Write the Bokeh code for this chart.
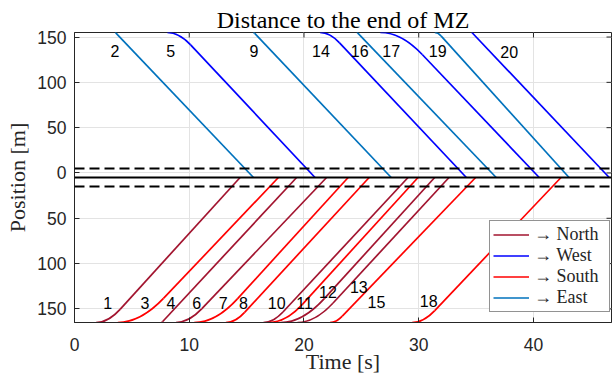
import numpy as np
from bokeh.plotting import figure
from bokeh.models import (ColumnDataSource, Span, Legend, LegendItem, FixedTicker)
from bokeh.embed import file_html
from bokeh.resources import INLINE
from bokeh.core.properties import value

# ---------------- data ----------------
vehicle_ids = [str(i) for i in range(1, 21)]
directions = ["North", "East", "South", "North", "West", "North", "South", "South",
              "East", "North", "South", "North", "North", "West", "South", "East",
              "West", "South", "East", "West"]
# time when the vehicle enters the plotted road (edge of the plot)
t_start = [1.88, 3.53, 3.77, 7.54, 8.09, 8.84, 10.43, 13.19, 15.57, 16.46,
           16.96, 17.97, 19.42, 21.40, 22.26, 24.60, 26.65, 29.42, 31.40, 34.60]
# time when the vehicle passes |position| = 100 m
t_mid = [7.60, 7.70, 10.64, 12.38, 13.18, 14.84, 17.00, 18.75, 19.75, 22.09,
         23.10, 24.55, 25.71, 26.34, 27.74, 28.80, 32.61, 35.28, 35.60, 38.75]
# time when the vehicle reaches the end of the merging zone
t_end = [14.43, 15.60, 17.77, 19.36, 20.96, 21.97, 23.85, 25.68, 27.60, 29.07,
         29.94, 31.39, 32.64, 34.15, 34.96, 36.75, 40.50, 42.40, 43.10, 46.60]
# vehicle number labels
label_t = [2.90, 3.53, 6.15, 8.41, 8.38, 10.64, 12.96, 14.72, 15.65, 17.62,
           20.06, 22.09, 24.78, 21.48, 26.32, 24.85, 27.60, 30.87, 31.65, 37.88]
label_y = [-143, 135, -143, -143, 135, -143, -143, -143, 135, -143,
           -144, -131.5, -125.6, 135, -142, 135, 135, -141.4, 135, 133]

edge_top = 155        # entry position, west/east-bound
edge_bottom = -165    # entry position, north/south-bound
mid_top = 100
mid_bottom = -100
end_pos = -5          # end of merging zone
upper_dash = 5
lower_dash = -15

legend_order = ["North", "West", "South", "East"]
colors = {"North": "#A2142F", "West": "#0000FF", "South": "#FF0000", "East": "#0072BD"}

x_range = (0, 46.8)
y_range = (-165, 155)
x_ticks = [0, 10, 20, 30, 40]
y_ticks = [-150, -100, -50, 0, 50, 100, 150]

# ---------------- layout ----------------
W, H = 616, 381
B_LEFT, B_RIGHT, B_TOP, B_BOTTOM = 74, 5, 32, 59
frame_w = W - B_LEFT - B_RIGHT
frame_h = H - B_TOP - B_BOTTOM
px_x = frame_w / (x_range[1] - x_range[0])   # pixels per second
px_y = frame_h / (y_range[1] - y_range[0])   # pixels per metre

# ---------------- geometry of each trajectory ----------------
rows = {d: dict(kx0=[], ky0=[], kcx=[], kcy=[], kx1=[], ky1=[],
                sx0=[], sy0=[], sx1=[], sy1=[]) for d in legend_order}
for d, t0, tm, te in zip(directions, t_start, t_mid, t_end):
    top = d in ("West", "East")
    y0 = edge_top if top else edge_bottom
    ym = mid_top if top else mid_bottom
    slope = (end_pos - ym) / (te - tm)
    tc = tm + (y0 - ym) / slope
    t0e = min(t0, tc)
    tk = 2 * tc - t0e
    yk = ym + slope * (tk - tm)
    r = rows[d]
    r["kx0"].append(t0e); r["ky0"].append(y0)
    r["kcx"].append(tc); r["kcy"].append(y0)
    r["kx1"].append(tk); r["ky1"].append(yk)
    r["sx0"].append(tk); r["sy0"].append(yk)
    r["sx1"].append(te); r["sy1"].append(end_pos)

p = figure(width=W, height=H, x_range=x_range, y_range=y_range,
           output_backend="svg", toolbar_location=None,
           min_border_left=B_LEFT, min_border_right=B_RIGHT, min_border_top=B_TOP,
           min_border_bottom=B_BOTTOM)
p.background_fill_color = "white"
p.border_fill_color = "white"
p.outline_line_color = "#262626"
p.outline_line_width = 1

p.title.text = "Distance to the end of MZ"
p.title.align = "center"
p.title.text_font = "Liberation Serif"
p.title.text_font_size = "24px"
p.title.text_font_style = "normal"
p.title.text_color = "black"
p.title.standoff = 0

AX = "#262626"
for ax in (p.xaxis[0], p.yaxis[0]):
    ax.axis_line_color = AX
    ax.major_tick_line_color = AX
    ax.major_tick_in = 5
    ax.major_tick_out = 0
    ax.minor_tick_line_color = None
    ax.major_label_text_font = "Liberation Sans"
    ax.major_label_text_font_size = "17.5px"
    ax.major_label_text_color = AX
    ax.axis_label_text_font = "Liberation Serif"
    ax.axis_label_text_font_size = "22px"
    ax.axis_label_text_font_style = "normal"
    ax.axis_label_text_color = AX

p.xaxis.ticker = FixedTicker(ticks=x_ticks)
p.yaxis.ticker = FixedTicker(ticks=y_ticks)
p.yaxis.major_label_overrides = {v: str(abs(v)) for v in y_ticks}
p.xaxis.axis_label = "Time [s]"
p.yaxis.axis_label = "Position [m]"
p.xaxis.major_label_standoff = 15
p.xaxis.axis_label_standoff = -5
p.yaxis.major_label_standoff = 8
p.yaxis.axis_label_standoff = 4

p.xgrid.ticker = FixedTicker(ticks=x_ticks)
p.ygrid.ticker = FixedTicker(ticks=y_ticks)
p.grid.grid_line_color = "#E3E3E3"
p.grid.grid_line_width = 1

# tick marks of the top and right sides of the box
tick_len = 5
p.segment(x0=x_ticks, y0=[y_range[1]] * len(x_ticks), x1=x_ticks,
          y1=[y_range[1] - tick_len / px_y] * len(x_ticks), line_color=AX, line_width=1)
p.segment(x0=[x_range[1]] * len(y_ticks), y0=y_ticks,
          x1=[x_range[1] - tick_len / px_x] * len(y_ticks), y1=y_ticks,
          line_color=AX, line_width=1)

p.add_layout(Span(location=upper_dash, dimension="width", line_color="black",
                  line_width=2, line_dash="10 5"))
p.add_layout(Span(location=end_pos, dimension="width", line_color="black",
                  line_width=2))
p.add_layout(Span(location=lower_dash, dimension="width", line_color="black",
                  line_width=2, line_dash="10 5"))

LW = 1.7
items = []
for d in legend_order:
    src = ColumnDataSource(rows[d])
    p.quadratic(x0="kx0", y0="ky0", x1="kx1", y1="ky1", cx="kcx", cy="kcy",
                source=src, line_color=colors[d], line_width=LW)
    r = p.segment(x0="sx0", y0="sy0", x1="sx1", y1="sy1", source=src,
                  line_color=colors[d], line_width=LW)
    items.append(LegendItem(label="\u2192 " + d, renderers=[r]))

lab_src = ColumnDataSource(dict(t=label_t, y=label_y, txt=vehicle_ids))
p.text(x="t", y="y", text="txt", source=lab_src, text_align="center",
       text_baseline="middle", text_font=value("Liberation Sans"),
       text_font_size="16px", text_color="black")

legend = Legend(items=items, location=(415, 10))
legend.glyph_width = 36
legend.glyph_height = 21
legend.label_height = 21
legend.label_width = 72
legend.spacing = 0
legend.padding = 3
legend.label_standoff = 5
legend.label_text_font = "Liberation Serif"
legend.label_text_font_size = "18px"
legend.label_text_color = "#262626"
legend.border_line_color = "#262626"
legend.border_line_width = 1
legend.background_fill_color = "white"
legend.background_fill_alpha = 1
p.add_layout(legend)

open("out.html", "w").write(file_html(p, INLINE))
